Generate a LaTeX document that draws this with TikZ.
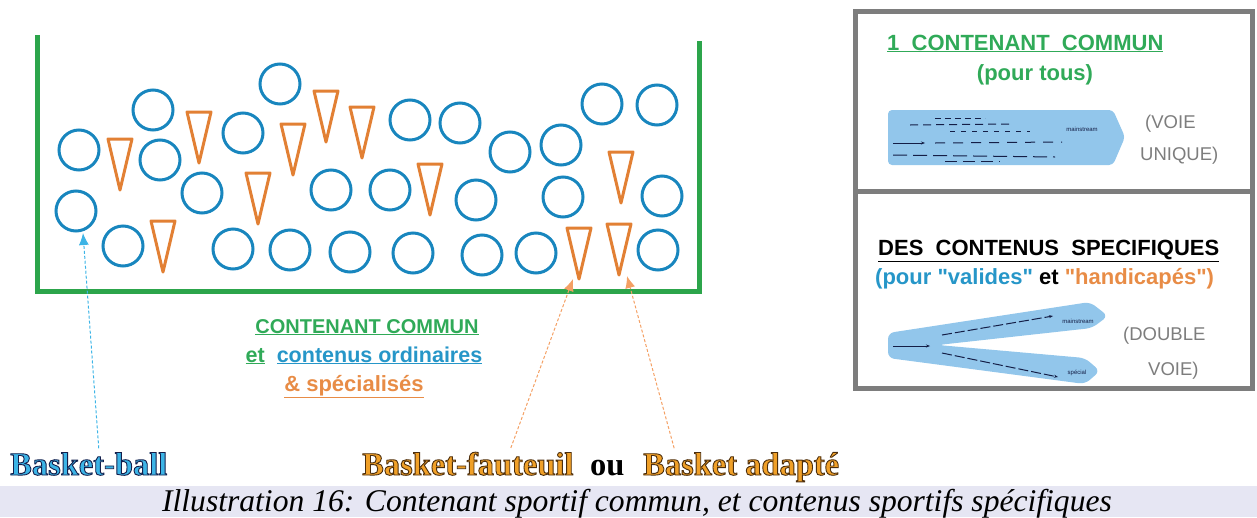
\documentclass[tikz,border=0pt]{standalone}
\usepackage{fontspec}
\setmainfont{Liberation Serif}
\setsansfont{Liberation Sans}[Ligatures=TeXOff]
\usetikzlibrary{arrows.meta}

\definecolor{bingreen}{RGB}{44,165,75}
\definecolor{ballblue}{RGB}{24,134,190}
\definecolor{coneorange}{RGB}{226,128,52}
\definecolor{txtgreen}{RGB}{48,170,88}
\definecolor{txtblue}{RGB}{38,150,200}
\definecolor{txtorange}{RGB}{232,140,70}
\definecolor{lanefill}{RGB}{146,198,235}
\definecolor{capbg}{RGB}{230,230,243}
\definecolor{boxgray}{RGB}{125,125,125}
\definecolor{lightblue}{RGB}{60,180,230}
\definecolor{lightorange}{RGB}{244,160,100}
\definecolor{basketorange}{RGB}{240,160,40}
\definecolor{shadowblue}{RGB}{20,30,70}

% filled text with a dark outline (pdf text render mode 2)
\newcommand{\outlined}[3]{\textcolor{#1}{\special{pdf:code 2 Tr 0.9 w #2 RG}#3\special{pdf:code 0 Tr}}}

\tikzset{
  ball/.style={draw=ballblue, line width=3pt},
  cone/.style={draw=coneorange, line width=3pt, line join=round},
  sanstext/.style={font=\sffamily\bfseries\fontsize{20}{24}\selectfont, inner sep=0pt, anchor=base},
  boxtext/.style={font=\sffamily\bfseries\fontsize{22}{26}\selectfont, inner sep=0pt, anchor=base west},
  graytext/.style={font=\sffamily\fontsize{18.5}{22}\selectfont, text=boxgray, inner sep=0pt, anchor=base west},
  basket/.style={font=\bfseries\fontsize{32.5}{37}\selectfont, inner sep=0pt, anchor=base west},
  pointer/.style={line width=1pt, dash pattern=on 3pt off 2pt, -{Latex[length=12pt,width=10pt]}},
  streak/.style={line width=1pt, shadowblue},
  tiny/.style={font=\sffamily\fontsize{6}{7}\selectfont, inner sep=0pt, text=shadowblue}
}

\begin{document}
\begin{tikzpicture}[x=1pt,y=-1pt]
\useasboundingbox (0,0) rectangle (1257,517);

% the common container
\draw[bingreen, line width=5pt] (37,35) -- (37,291) -- (699,291) -- (699,41);

% balls and cones
\foreach \x/\y in {79/150, 76/211, 123/246, 153/110, 160/160, 202/193, 243/133,
  280/84, 233/249, 290/250, 331/190, 350/252, 390/190, 410/120, 413/253, 460/123,
  510/152, 561/145, 602/104, 657/105, 476/200, 563/197, 662/196, 482/255, 536/253, 658/250}
  \draw[ball] (\x,\y) circle (20pt);
\foreach \x/\y in {120/139, 199/112, 163/221, 258/173, 293/124, 326/91, 362/107,
  430/164, 621/152, 579/228, 619/224}
  \draw[cone] (\x-12,\y) -- (\x+12,\y) -- (\x,\y+51) -- cycle;

\coordinate (ballA) at (83,233);
\coordinate (coneA) at (573,279);
\coordinate (coneB) at (627,276);

% texts under the container
\node[sanstext, text=txtgreen] (commun) at (367,333) {\underline{CONTENANT COMMUN}};
\node[sanstext, font=\sffamily\bfseries\fontsize{21.5}{24}\selectfont] (ordinaires) at (364,362)
  {\textcolor{txtgreen}{\underline{et}}\ \ \textcolor{txtblue}{\underline{contenus ordinaires}}};
\node[sanstext, text=txtorange, font=\sffamily\bfseries\fontsize{22}{24}\selectfont] (specialises) at (354,391)
  {\underline{\&~spécialisés}};

% basket names
\node[basket] (bball) at (10,475) {\outlined{lightblue}{0.08 0.12 0.3}{Basket-ball}};
\node[basket] (fauteuil) at (362,475) {\outlined{basketorange}{0.3 0.18 0.05}{Basket-fauteuil}};
\node[basket] (ou) at (590,475) {ou};
\node[basket] (adapte) at (643,475) {\outlined{basketorange}{0.3 0.18 0.05}{Basket adapté}};

\draw[pointer, lightblue] ([xshift=10pt,yshift=4pt]bball.north) -- (ballA);
\draw[pointer, lightorange] ([xshift=43pt,yshift=4pt]fauteuil.north) -- (coneA);
\draw[pointer, lightorange] ([xshift=-67pt,yshift=4pt]adapte.north) -- (coneB);

% right panel
\draw[boxgray, line width=5pt] (855,11) rectangle (1252,388);
\draw[boxgray, line width=5pt] (855,191) -- (1252,191);

\node[boxtext, text=txtgreen] (uncontenant) at (887,50) {\underline{1\ \ CONTENANT\ \ COMMUN}};
\node[boxtext, text=txtgreen, anchor=base] (pourtous) at (1035,80) {(pour tous)};
\fill[lanefill, rounded corners=4pt] (888,110) -- (1113,110) -- (1125,137) -- (1113,165) -- (888,165) -- cycle;
\draw[streak, dash pattern=on 6pt off 4pt] (935,118) -- (985,118);
\draw[streak, dash pattern=on 8pt off 5pt] (910,125) -- (1012,124);
\draw[streak, dash pattern=on 5pt off 6pt] (950,131) -- (1030,131);
\draw[streak, -{Stealth[length=4pt]}] (893,143) -- (925,143);
\draw[streak, dash pattern=on 10pt off 8pt] (935,143) -- (1062,142);
\draw[streak, dash pattern=on 14pt off 6pt] (893,155) -- (1055,157);
\draw[streak, dash pattern=on 12pt off 6pt] (945,161) -- (1000,161);
\node[tiny] (mainA) at (1082,129) {mainstream};
\node[graytext] (voie) at (1145,128) {(VOIE};
\node[graytext] (unique) at (1140,160) {UNIQUE)};

\node[boxtext] (specifiques) at (878,255) {\underline{DES\ \ CONTENUS\ \ SPECIFIQUES}};
\node[boxtext] (valides) at (875,284) {\textcolor{txtblue}{(pour "valides"} et \textcolor{txtorange}{"handicapés")}};
\fill[lanefill, rounded corners=6pt] (888,333) -- (1090,302) -- (1108,316) -- (1092,328)
  -- (938,345) -- (1085,358) -- (1100,371) -- (1085,384) -- (888,358) -- cycle;
\draw[streak, -{Stealth[length=4pt]}] (893,346) -- (930,346);
\draw[streak, dash pattern=on 10pt off 3pt, -{Stealth[length=4pt]}] (942,335) -- (1053,316);
\draw[streak, dash pattern=on 10pt off 3pt, -{Stealth[length=4pt]}] (942,353) -- (1058,377);
\node[tiny] (mainB) at (1078,321) {mainstream};
\node[tiny] (special) at (1077,373) {spécial};
\node[graytext] (double) at (1123,340) {(DOUBLE};
\node[graytext] (voieB) at (1148,375) {VOIE)};

% caption
\fill[capbg] (0,486) rectangle (1257,517);
\node[font=\itshape\fontsize{31.6}{36}\selectfont, inner sep=0pt, anchor=base] (legende) at (637,511)
  {Illustration 16: Contenant sportif commun, et contenus sportifs spécifiques};
\end{tikzpicture}
\end{document}
